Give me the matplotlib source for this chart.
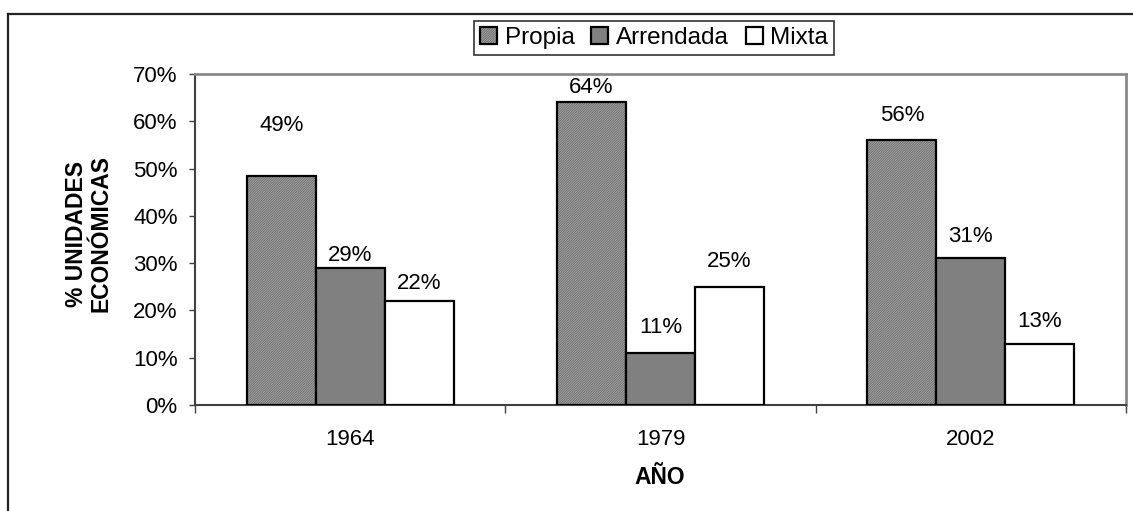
import matplotlib
matplotlib.use("Agg")
import matplotlib.pyplot as plt
import numpy as np
from matplotlib.patches import Patch
from matplotlib.lines import Line2D
from matplotlib.legend_handler import HandlerTuple
from matplotlib.ticker import FixedLocator, NullFormatter, FixedFormatter

# ---- data ----
years = ["1964", "1979", "2002"]
series_names = ["Propia", "Arrendada", "Mixta"]
propia = [48.5, 64, 56]
arrendada = [29, 11, 31]
mixta = [22, 25, 13]
yticks = [0, 10, 20, 30, 40, 50, 60, 70]
ylabel_text = "% UNIDADES\nECONÓMICAS"
xlabel_text = "AÑO"

# label placement (pixels above bar top, per series then per year) - layout only
label_offsets_px = [[50, 15, 25], [12, 25, 22], [17, 25, 22]]

plt.rcParams['font.family'] = ['Liberation Sans', 'DejaVu Sans']
plt.rcParams['hatch.linewidth'] = 0.5

W, H, DPI = 1133, 511, 100
fig = plt.figure(figsize=(W / DPI, H / DPI), dpi=DPI)
fig.patch.set_facecolor('white')

ax_l, ax_r, ax_t, ax_b = 195, 1126, 74, 405
ax = fig.add_axes([ax_l / W, 1 - ax_b / H, (ax_r - ax_l) / W, (ax_b - ax_t) / H])

fs_tick = 16
fs_leg = 17.5
fs_lab = 16.5

x = np.arange(len(years))
bw = 1 / 4.5
series = [propia, arrendada, mixta]
faces = ['#a2a2a2', '#808080', 'white']
hatch_p = '/' * 14
hatch_col = '#666666'

for i, (vals, fc) in enumerate(zip(series, faces)):
    pos = x + (i - 1) * bw
    if i == 0:
        ax.bar(pos, vals, bw, color=fc, edgecolor=hatch_col, hatch=hatch_p, linewidth=0, zorder=2)
        ax.bar(pos, vals, bw, facecolor='none', edgecolor='black', linewidth=1.6, zorder=3)
    else:
        ax.bar(pos, vals, bw, color=fc, edgecolor='black', linewidth=1.6, zorder=3)
    for j, (p, v) in enumerate(zip(pos, vals)):
        lab = f"{int(v + 0.5)}%"
        ax.annotate(lab, (p, v), xytext=(0, label_offsets_px[i][j] * 0.72),
                    textcoords='offset points', ha='center', va='center',
                    fontsize=fs_tick, zorder=4, annotation_clip=False)

ax.set_xlim(-0.5, len(years) - 0.5)
ax.set_ylim(0, 70)

ax.set_yticks(yticks)
ax.set_yticklabels([f"{t}%" for t in yticks])
ax.tick_params(axis='y', direction='out', length=4.5, width=1.0, color='#404040',
               pad=8, labelsize=fs_tick)

ax.xaxis.set_major_locator(FixedLocator(np.arange(-0.5, len(years), 1.0)))
ax.xaxis.set_major_formatter(NullFormatter())
ax.xaxis.set_minor_locator(FixedLocator(x))
ax.xaxis.set_minor_formatter(FixedFormatter(years))
ax.tick_params(axis='x', which='major', direction='out', length=6, width=1.0, color='#404040')
ax.tick_params(axis='x', which='minor', length=0, pad=17, labelsize=fs_tick)

for s in ['top', 'right']:
    ax.spines[s].set_color('#8a8a8a')
    ax.spines[s].set_linewidth(2)
for s in ['left', 'bottom']:
    ax.spines[s].set_color('#404040')
    ax.spines[s].set_linewidth(1.5)

fig.text(89 / W, 1 - 234 / H, ylabel_text, rotation=90, ha='center', va='center',
         fontsize=fs_lab, fontweight='bold', linespacing=1.1)
fig.text(660 / W, 1 - 477 / H, xlabel_text, ha='center', va='center',
         fontsize=fs_lab, fontweight='bold')

h_prop = (Patch(facecolor=faces[0], edgecolor=hatch_col, hatch=hatch_p, linewidth=0),
          Patch(facecolor='none', edgecolor='black', linewidth=1.6))
handles = [
    h_prop,
    Patch(facecolor=faces[1], edgecolor='black', linewidth=1.6),
    Patch(facecolor=faces[2], edgecolor='black', linewidth=1.6),
]
leg = fig.legend(handles, series_names, loc='center', ncol=3,
                 bbox_to_anchor=(654 / W, 1 - 38 / H), fontsize=fs_leg,
                 handler_map={tuple: HandlerTuple(ndivide=1, pad=0)},
                 frameon=True, fancybox=False, handlelength=0.7, handleheight=0.7,
                 handletextpad=0.3, columnspacing=0.7, borderpad=0.25,
                 borderaxespad=0)
leg.get_frame().set_edgecolor('black')
leg.get_frame().set_linewidth(1.2)

fig.add_artist(Line2D([8 / W, 1.0], [1 - 14 / H, 1 - 14 / H], transform=fig.transFigure,
                      color='#222222', linewidth=1.6))
fig.add_artist(Line2D([8 / W, 8 / W], [0.0, 1 - 14 / H], transform=fig.transFigure,
                      color='#222222', linewidth=1.6))

fig.savefig("out.png", dpi=DPI, facecolor='white')
